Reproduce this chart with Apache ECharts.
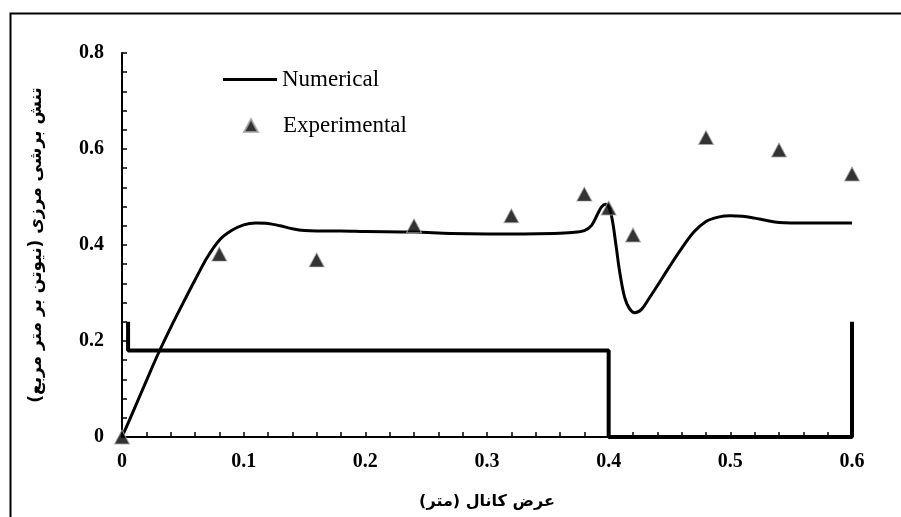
<!DOCTYPE html>
<html>
<head>
<meta charset="utf-8">
<script src="https://cdn.jsdelivr.net/npm/echarts@6/dist/echarts.min.js"></script>
<style>html,body{margin:0;padding:0;background:#fff}#c{width:901px;height:517px}</style>
</head>
<body>
<div id="c"></div>
<script>
var xTicks = [0, 0.1, 0.2, 0.3, 0.4, 0.5, 0.6];
var yTicks = [0, 0.2, 0.4, 0.6, 0.8];
var numericalX = [0,0.01,0.02,0.03,0.04,0.05,0.06,0.07,0.08,0.09,0.1,0.11,0.12,0.13,0.14,0.15,0.16,0.18,0.2,0.24,0.27,0.3,0.33,0.355,0.37,0.38,0.386,0.391,0.394,0.3975,0.4005,0.403,0.406,0.409,0.413,0.417,0.4215,0.427,0.433,0.44,0.45,0.46,0.47,0.48,0.49,0.5,0.51,0.52,0.53,0.54,0.55,0.575,0.6];
var numericalY = [0,0.058,0.117,0.175,0.228,0.278,0.327,0.374,0.41,0.43,0.442,0.446,0.445,0.44,0.434,0.43,0.429,0.429,0.428,0.427,0.424,0.423,0.423,0.424,0.426,0.43,0.441,0.465,0.479,0.485,0.477,0.452,0.4,0.345,0.292,0.268,0.259,0.266,0.288,0.315,0.355,0.393,0.427,0.449,0.458,0.461,0.46,0.456,0.451,0.447,0.446,0.446,0.446];
var expX = [0,0.08,0.16,0.24,0.32,0.38,0.4,0.42,0.48,0.54,0.6];
var expY = [0,0.381,0.369,0.44,0.461,0.506,0.477,0.421,0.624,0.598,0.548];
var channelX = [0.005,0.005,0.4,0.4,0.6,0.6];
var channelY = [0.24,0.18,0.18,0,0,0.24];

function zip(a,b){return a.map(function(v,i){return [v,b[i]];});}
var serif = 'Liberation Serif, Times New Roman, serif';
var fa = 'DejaVu Sans, Noto Sans, sans-serif';
function fmt(v){return v===0?'0':v.toFixed(1);}
var chart = echarts.init(document.getElementById('c'), null, {renderer:'canvas'});
chart.setOption({
  backgroundColor:'#fff',
  animation:false,
  graphic:[{type:'rect', left:8, top:11, shape:{width:900, height:520}, style:{fill:'none', stroke:'#000', lineWidth:2}, silent:true}],
  grid:{left:122, right:49, top:53, bottom:80},
  legend:[
    {data:[{name:'Numerical', icon:'rect'}], orient:'vertical', left:223, top:68, padding:0, itemWidth:54, itemHeight:3, itemGap:0,
     itemStyle:{color:'#000'},
     textStyle:{fontFamily:serif, fontSize:23, color:'#000'}},
    {data:[{name:'Experimental', icon:'triangle'}], orient:'vertical', left:243, top:114, padding:0, itemWidth:14, itemHeight:13,
     textStyle:{fontFamily:serif, fontSize:23, color:'#000', padding:[0,0,0,20]}}
  ],
  xAxis:{type:'value', min:0, max:0.6, interval:0.1,
    axisLine:{lineStyle:{color:'#000', width:2}},
    axisTick:{inside:true, length:5, lineStyle:{color:'#000', width:1.5}},
    minorTick:{show:true, splitNumber:5, length:5, lineStyle:{color:'#000', width:1.5}},
    splitLine:{show:false},
    axisLabel:{fontFamily:serif, fontWeight:'bold', fontSize:20, color:'#000', margin:15, formatter:fmt},
    name:'\u200Fعرض کانال (متر)\u200F', nameLocation:'middle', nameGap:57,
    nameTextStyle:{fontFamily:fa, fontWeight:'bold', fontSize:16, color:'#000'}
  },
  yAxis:{type:'value', min:0, max:0.8, interval:0.2,
    axisLine:{show:true, lineStyle:{color:'#000', width:2}},
    axisTick:{show:true, inside:true, length:5, lineStyle:{color:'#000', width:1.5}},
    minorTick:{show:true, splitNumber:5, length:5, lineStyle:{color:'#000', width:1.5}},
    splitLine:{show:false},
    axisLabel:{fontFamily:serif, fontWeight:'bold', fontSize:20, color:'#000', margin:18, formatter:fmt},
    name:'\u200Fتنش برشی مرزی (نیوتن بر متر مربع)\u200F', nameLocation:'middle', nameGap:77, nameRotate:90,
    nameTextStyle:{fontFamily:fa, fontWeight:'bold', fontSize:17, color:'#000'}
  },
  series:[
    {name:'Channel', type:'line', data:zip(channelX, channelY), symbol:'none', smooth:false,
     lineStyle:{color:'#000', width:4}, z:2},
    {name:'Numerical', type:'line', data:zip(numericalX, numericalY), symbol:'none', smooth:0.35,
     lineStyle:{color:'#000', width:3}, itemStyle:{color:'#000'}, z:3},
    {name:'Experimental', type:'scatter', data:zip(expX, expY), symbol:'triangle', symbolSize:[15,14],
     itemStyle:{color:'#000', borderColor:'#a8a8a8', borderWidth:1}, z:4}
  ]
});
</script>
</body>
</html>
